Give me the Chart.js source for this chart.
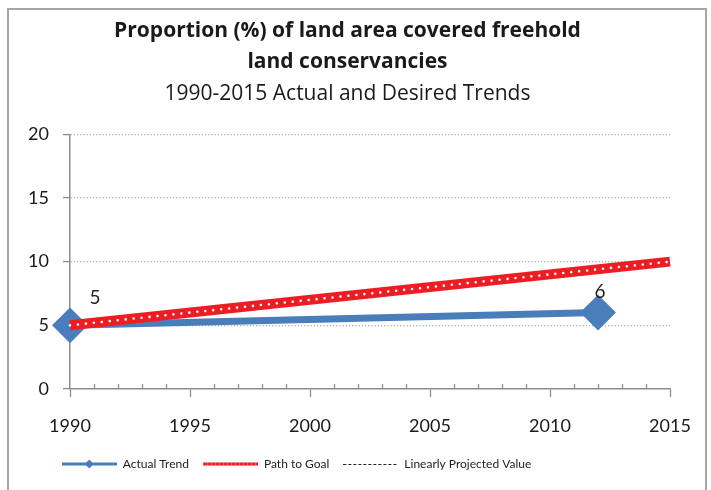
<!DOCTYPE html>
<html>
<head>
<meta charset="utf-8">
<script src="https://cdn.jsdelivr.net/npm/chart.js@4"></script>
<style>
  html, body { margin: 0; padding: 0; background: #fff; }
  #wrap { width: 711px; height: 490px; }
</style>
</head>
<body>
<div id="wrap"><canvas id="landChart" width="711" height="490"></canvas></div>
<script>
// chart values
const actualYears = [1990, 2012];
const actualValues = [5, 6];
const goalYears = [1990, 2015];
const goalValues = [5, 10];
const projectedYears = [];
const projectedValues = [];
const seriesNames = ['Actual Trend', 'Path to Goal', 'Linearly Projected Value'];

const BLUE = '#4a7ebb';
const RED = '#ee1d24';
const FONT = 'Lato, "Open Sans", sans-serif';
const TITLE_FONT = '"Open Sans", Lato, sans-serif';

function toPoints(xs, ys) {
    return xs.map((x, i) => ({ x: x, y: ys[i] }));
}

// small canvases used as legend symbols
function legendSymbol(kind) {
    const c = document.createElement('canvas');
    c.width = 55;
    c.height = 12;
    const g = c.getContext('2d');
    g.lineWidth = 3;
    if (kind === 'actual') {
        g.strokeStyle = BLUE;
        g.beginPath(); g.moveTo(0, 6); g.lineTo(55, 6); g.stroke();
        g.fillStyle = BLUE;
        g.beginPath(); g.moveTo(27.5, 1.5); g.lineTo(32, 6); g.lineTo(27.5, 10.5); g.lineTo(23, 6); g.closePath(); g.fill();
    } else if (kind === 'goal') {
        g.strokeStyle = RED;
        g.beginPath(); g.moveTo(0, 6); g.lineTo(55, 6); g.stroke();
        g.strokeStyle = '#f7a0a0';
        g.lineWidth = 1;
        g.setLineDash([1, 3]);
        g.beginPath(); g.moveTo(0, 6); g.lineTo(55, 6); g.stroke();
    } else {
        g.strokeStyle = '#222';
        g.lineWidth = 1;
        g.setLineDash([3, 2]);
        g.beginPath(); g.moveTo(0, 6.5); g.lineTo(55, 6.5); g.stroke();
    }
    return c;
}

// outer frame of the chart
const framePlugin = {
    id: 'frame',
    beforeDraw(chart) {
        const ctx = chart.ctx;
        ctx.save();
        ctx.fillStyle = '#fff';
        ctx.fillRect(0, 0, chart.width, chart.height);
        ctx.strokeStyle = '#a6a6a6';
        ctx.lineWidth = 2;
        ctx.strokeRect(8, 9, 698, 520);
        ctx.restore();
    }
};

// nudge legend to the left like the original
const legendShift = {
    id: 'legendShift',
    afterLayout(chart) {
        if (chart.legend) {
            chart.legend.left -= 51;
            chart.legend.right -= 51;
        }
    }
};

// minor year ticks on the x axis
const minorTicksPlugin = {
    id: 'minorTicks',
    afterDraw(chart) {
        const xs = chart.scales.x;
        const ctx = chart.ctx;
        const y0 = chart.chartArea.bottom;
        ctx.save();
        ctx.strokeStyle = '#8c8c8c';
        ctx.lineWidth = 1.3;
        for (let yr = xs.min; yr <= xs.max; yr++) {
            if (yr % 5 === 0) continue;
            const px = Math.round(xs.getPixelForValue(yr)) + 0.5;
            ctx.beginPath();
            ctx.moveTo(px, y0);
            ctx.lineTo(px, y0 - 5);
            ctx.stroke();
        }
        ctx.restore();
    }
};

// value labels on the actual trend points
const valueLabelPlugin = {
    id: 'valueLabels',
    afterDatasetsDraw(chart) {
        const meta = chart.getDatasetMeta(0);
        const ctx = chart.ctx;
        const offsets = [[25, -27], [2, -21]];
        ctx.save();
        ctx.fillStyle = '#222';
        ctx.font = '19px ' + FONT;
        ctx.textAlign = 'center';
        ctx.textBaseline = 'middle';
        meta.data.forEach((pt, i) => {
            const off = offsets[i] || [0, -20];
            ctx.fillText(String(actualValues[i]), pt.x + off[0], pt.y + off[1]);
        });
        ctx.restore();
    }
};

const symbols = [legendSymbol('actual'), legendSymbol('goal'), legendSymbol('proj')];

new Chart(document.getElementById('landChart'), {
    type: 'line',
    data: {
        datasets: [
            {
                label: seriesNames[0],
                data: toPoints(actualYears, actualValues),
                borderColor: BLUE,
                backgroundColor: BLUE,
                borderWidth: 7,
                pointStyle: 'rectRot',
                pointRadius: 13,
                pointBackgroundColor: BLUE,
                pointBorderColor: BLUE,
                clip: false,
                order: 2
            },
            {
                label: seriesNames[1],
                data: toPoints(goalYears, goalValues),
                borderColor: RED,
                borderWidth: 10,
                pointRadius: 0,
                clip: false,
                order: 1
            },
            {
                label: seriesNames[2],
                data: toPoints(projectedYears, projectedValues),
                borderColor: '#222',
                borderWidth: 1,
                borderDash: [3, 2],
                pointRadius: 0,
                order: 3
            },
            {
                label: 'goal dots',
                data: toPoints(goalYears, goalValues),
                borderColor: '#fff',
                borderWidth: 2.6,
                borderDash: [0, 8],
                borderCapStyle: 'round',
                pointRadius: 0,
                clip: false,
                order: 0
            }
        ]
    },
    options: {
        responsive: false,
        animation: false,
        layout: { padding: { left: 25, right: 41, top: 16, bottom: 10 } },
        plugins: {
            title: {
                display: true,
                text: ['Proportion (%) of land area covered freehold', 'land conservancies'],
                color: '#1a1a1a',
                font: { family: TITLE_FONT, size: 21, weight: 'bold', lineHeight: 1.45 },
                padding: { top: 0, bottom: 2 }
            },
            subtitle: {
                display: true,
                text: '1990-2015 Actual and Desired Trends',
                color: '#1a1a1a',
                font: { family: TITLE_FONT, size: 21, lineHeight: 1.4 },
                padding: { top: 0, bottom: 26 }
            },
            legend: {
                position: 'bottom',
                labels: {
                    usePointStyle: true,
                    pointStyleWidth: 55,
                    boxHeight: 12,
                    padding: 14,
                    color: '#222',
                    font: { family: FONT, size: 12 },
                    generateLabels() {
                        return seriesNames.map((name, i) => ({
                            text: name,
                            pointStyle: symbols[i],
                            datasetIndex: i,
                            fillStyle: 'transparent',
                            strokeStyle: 'transparent',
                            lineWidth: 0,
                            fontColor: '#222'
                        }));
                    }
                }
            },
            tooltip: { enabled: false }
        },
        scales: {
            x: {
                type: 'linear',
                min: 1990,
                max: 2015,
                ticks: {
                    stepSize: 5,
                    color: '#1a1a1a',
                    font: { family: FONT, size: 18 },
                    padding: 18,
                    callback: v => String(v)
                },
                grid: {
                    drawOnChartArea: false,
                    drawTicks: true,
                    tickLength: 8,
                    tickColor: '#8c8c8c',
                    tickWidth: 1.3
                },
                border: { color: '#8c8c8c', width: 1.5 },
                afterFit(scale) { scale.height = 55; }
            },
            y: {
                min: 0,
                max: 20,
                ticks: {
                    stepSize: 5,
                    color: '#1a1a1a',
                    font: { family: FONT, size: 18 },
                    padding: 14
                },
                grid: {
                    color: ctx => (ctx.tick && ctx.tick.value === 0) ? 'rgba(0,0,0,0)' : '#a6a6a6',
                    lineWidth: 1.2,
                    tickLength: 7,
                    tickColor: '#8c8c8c',
                    tickWidth: 1.3,
                    tickBorderDash: []
                },
                border: { color: '#8c8c8c', width: 1.5, dash: [1.2, 2] },
                afterFit(scale) { scale.width = 45; }
            }
        }
    },
    plugins: [framePlugin, legendShift, minorTicksPlugin, valueLabelPlugin]
});
</script>
</body>
</html>
